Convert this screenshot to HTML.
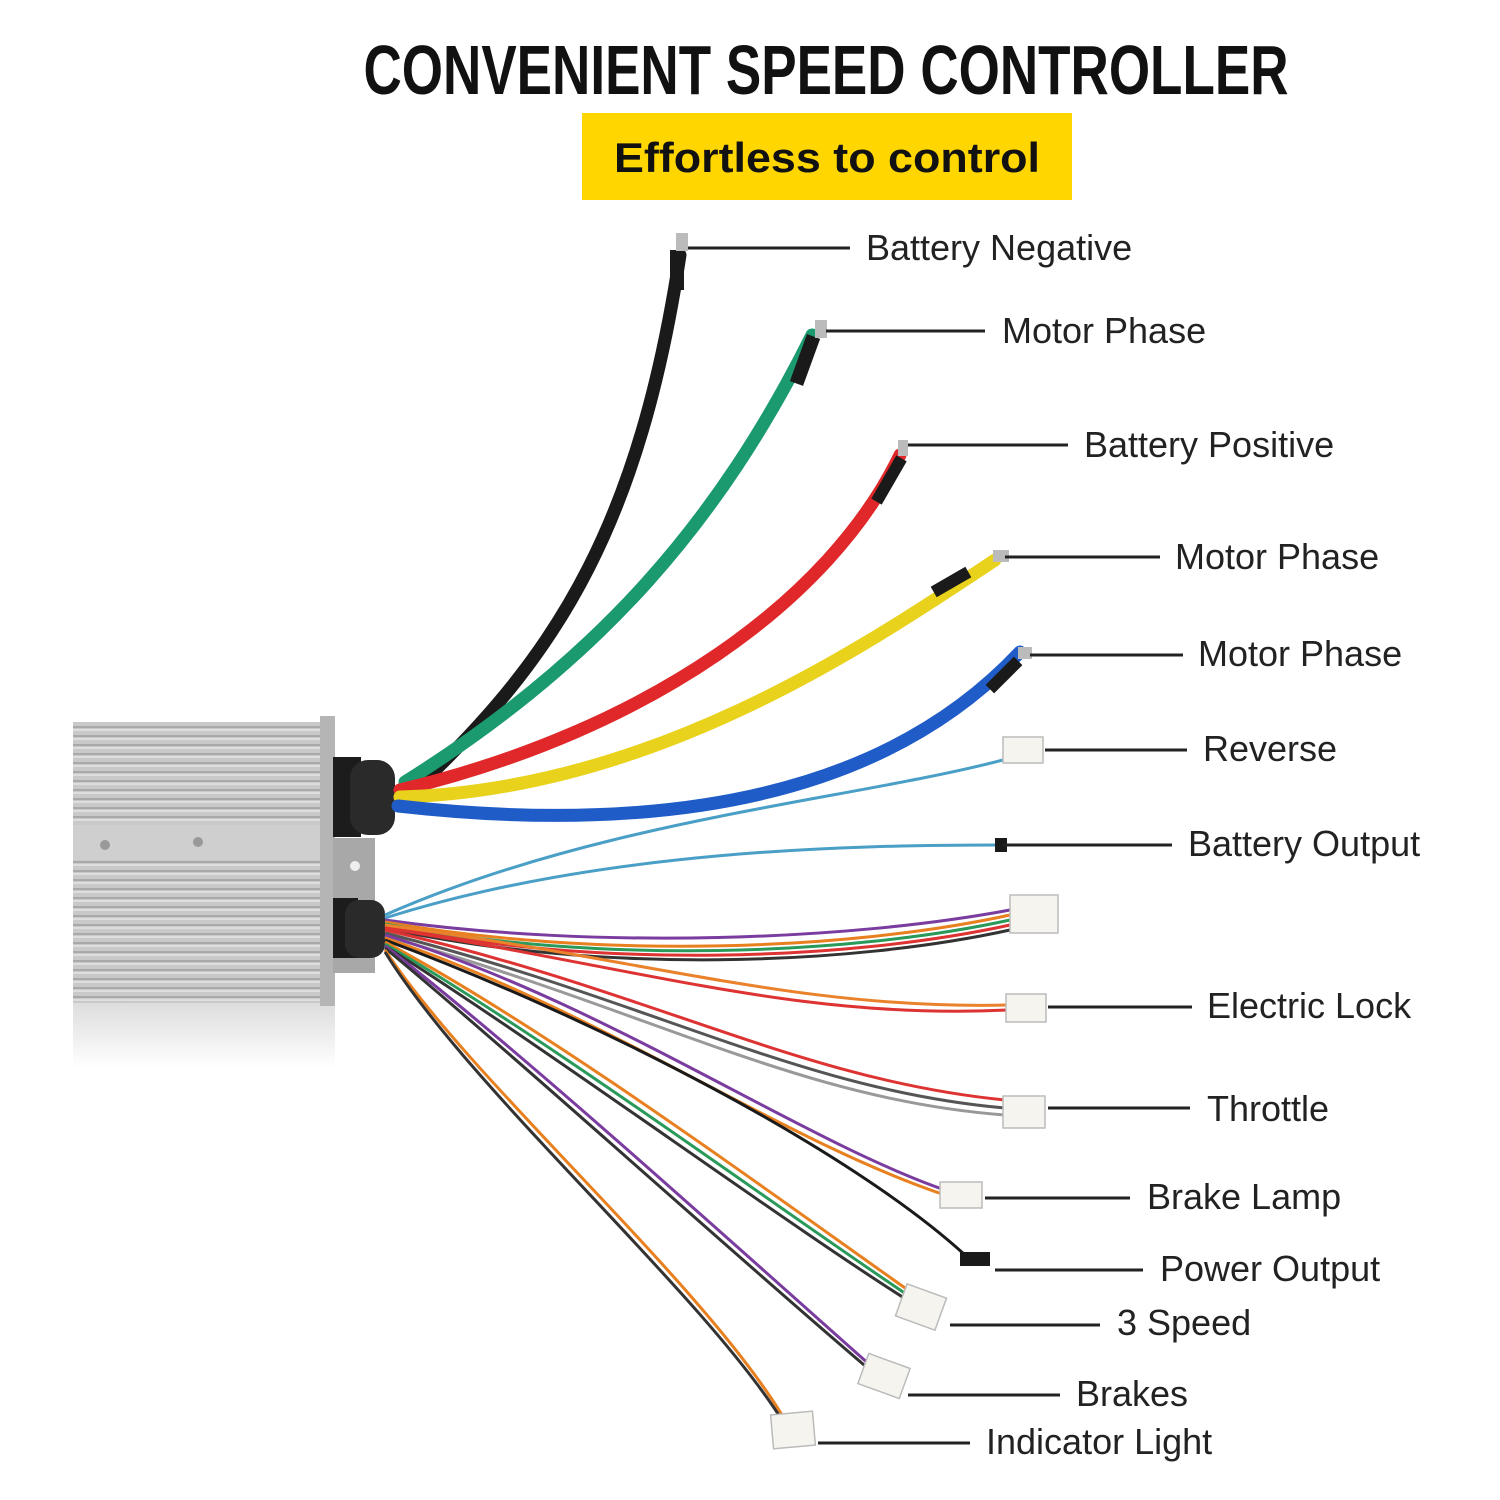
<!DOCTYPE html>
<html><head><meta charset="utf-8"><style>
html,body{margin:0;padding:0;background:#fff}
svg{display:block}
.lb{font-family:"Liberation Sans",sans-serif;font-size:36px;fill:#222}
</style></head><body>
<svg width="1500" height="1500" viewBox="0 0 1500 1500" xmlns="http://www.w3.org/2000/svg">
<defs>
<linearGradient id="shadow" x1="0" y1="0" x2="0" y2="1"><stop offset="0" stop-color="#ddd"/><stop offset="1" stop-color="#fff"/></linearGradient>
<pattern id="ribs" width="10" height="9" patternUnits="userSpaceOnUse"><rect width="10" height="9" fill="#c9c9c9"/><rect y="6" width="10" height="2" fill="#a9a9a9"/><rect y="0" width="10" height="2" fill="#dedede"/></pattern>
</defs>
<text x="826" y="94" text-anchor="middle" textLength="925" lengthAdjust="spacingAndGlyphs" font-family="Liberation Sans,sans-serif" font-weight="bold" font-size="70" fill="#111">CONVENIENT SPEED CONTROLLER</text>
<rect x="582" y="113" width="490" height="87" fill="#FFD600"/>
<text x="827" y="172" text-anchor="middle" textLength="426" lengthAdjust="spacingAndGlyphs" font-family="Liberation Sans,sans-serif" font-weight="bold" font-size="42" fill="#111">Effortless to control</text>

<!-- controller -->
<rect x="73" y="1003" width="262" height="65" fill="url(#shadow)"/>
<rect x="73" y="722" width="250" height="281" fill="url(#ribs)"/>
<rect x="73" y="825" width="250" height="35" fill="#cfcfcf"/>
<circle cx="105" cy="845" r="5" fill="#999"/><circle cx="198" cy="842" r="5" fill="#999"/>
<rect x="320" y="716" width="15" height="290" fill="#b5b5b5"/>
<rect x="333" y="838" width="42" height="135" fill="#a8a8a8"/>
<circle cx="355" cy="866" r="5" fill="#eee"/>
<rect x="333" y="757" width="28" height="80" fill="#1c1c1c"/>
<rect x="350" y="760" width="45" height="75" rx="18" fill="#2a2a2a"/>
<rect x="333" y="898" width="25" height="60" fill="#1c1c1c"/>
<rect x="345" y="900" width="40" height="58" rx="14" fill="#2a2a2a"/>

<!-- thin wires -->
<g fill="none" stroke-width="3">
<path d="M385,915 C600,820 850,800 1003,760" stroke="#4a9fc7"/>
<path d="M385,918 C600,850 850,845 1000,845" stroke="#4a9fc7"/>
<path d="M385,920 C600,950 850,940 1010,910" stroke="#7a3c9e"/>
<path d="M385,922 C600,960 850,950 1010,915" stroke="#e88020"/>
<path d="M385,924 C600,965 850,955 1010,920" stroke="#2a9a5a"/>
<path d="M385,926 C600,970 850,960 1010,925" stroke="#d33"/>
<path d="M385,928 C600,975 850,965 1010,930" stroke="#333"/>
<path d="M385,925 C650,960 800,1010 1008,1005" stroke="#e9822a"/>
<path d="M385,928 C650,970 800,1020 1008,1010" stroke="#d33"/>
<path d="M385,930 C650,990 800,1080 1005,1100" stroke="#d33"/>
<path d="M385,933 C650,1000 800,1090 1005,1108" stroke="#555"/>
<path d="M385,936 C650,1010 800,1100 1005,1115" stroke="#999"/>
<path d="M385,935 C600,1000 800,1140 945,1190" stroke="#7a3c9e"/>
<path d="M385,938 C600,1010 780,1140 945,1195" stroke="#e88020"/>
<path d="M385,940 C600,1020 850,1150 965,1255" stroke="#1a1a1a"/>
<path d="M385,942 C550,1030 780,1200 915,1295" stroke="#e88020"/>
<path d="M385,944 C550,1040 780,1210 915,1300" stroke="#2a9a5a"/>
<path d="M385,946 C550,1050 780,1220 915,1305" stroke="#333"/>
<path d="M385,946 C520,1050 740,1250 870,1365" stroke="#7a3c9e"/>
<path d="M385,948 C520,1060 740,1260 870,1370" stroke="#333"/>
<path d="M385,950 C470,1080 700,1280 782,1415" stroke="#e88020"/>
<path d="M385,952 C470,1090 700,1290 782,1420" stroke="#333"/>
</g>
<!-- thick cables -->
<g fill="none" stroke-width="13" stroke-linecap="round">
<path d="M430,775 C560,650 640,520 680,255" stroke="#1a1a1a"/>
<path d="M405,782 C600,660 720,520 812,335" stroke="#1a9a6e"/>
<path d="M400,790 C650,730 830,600 900,455" stroke="#e0282a"/>
<path d="M400,797 C650,790 860,650 995,560" stroke="#e8d21c"/>
<path d="M398,806 C700,840 900,780 1020,652" stroke="#1f5cc8"/>
</g>
<!-- terminals -->
<g fill="#1a1a1a">
<rect x="670" y="250" width="14" height="40"/><rect x="798" y="335" width="14" height="50" transform="rotate(20 805 360)"/>
<rect x="883" y="455" width="12" height="50" transform="rotate(30 889 480)"/>
<rect x="945" y="562" width="12" height="40" transform="rotate(60 951 582)"/>
<rect x="998" y="655" width="12" height="40" transform="rotate(45 1004 675)"/>
<rect x="995" y="838" width="12" height="14"/><rect x="960" y="1252" width="30" height="14"/>
</g>
<g fill="#bbb"><rect x="676" y="233" width="12" height="18"/><rect x="815" y="320" width="12" height="18"/><rect x="898" y="440" width="10" height="16"/><rect x="993" y="550" width="16" height="12"/><rect x="1018" y="647" width="14" height="12"/></g>
<g fill="#f6f4ee" stroke="#bbb" stroke-width="1.5">
<rect x="1003" y="737" width="40" height="26"/><rect x="1010" y="895" width="48" height="38"/>
<rect x="1006" y="994" width="40" height="28"/><rect x="1003" y="1096" width="42" height="32"/>
<rect x="940" y="1182" width="42" height="26"/><rect x="900" y="1290" width="42" height="34" transform="rotate(20 921 1307)"/>
<rect x="862" y="1360" width="44" height="32" transform="rotate(20 884 1376)"/><rect x="772" y="1413" width="42" height="34" transform="rotate(-5 793 1430)"/>
</g>

<!-- leader lines -->
<g stroke="#222" stroke-width="3">
<line x1="688" y1="248" x2="850" y2="248"/><line x1="826" y1="331" x2="985" y2="331"/>
<line x1="908" y1="445" x2="1068" y2="445"/><line x1="1005" y1="557" x2="1160" y2="557"/>
<line x1="1030" y1="655" x2="1183" y2="655"/><line x1="1045" y1="750" x2="1187" y2="750"/>
<line x1="1003" y1="845" x2="1172" y2="845"/><line x1="1048" y1="1007" x2="1192" y2="1007"/>
<line x1="1048" y1="1108" x2="1190" y2="1108"/><line x1="985" y1="1198" x2="1130" y2="1198"/>
<line x1="995" y1="1270" x2="1143" y2="1270"/><line x1="950" y1="1325" x2="1100" y2="1325"/>
<line x1="908" y1="1395" x2="1060" y2="1395"/><line x1="818" y1="1443" x2="970" y2="1443"/>
</g>
<text class="lb" x="866" y="260">Battery Negative</text>
<text class="lb" x="1002" y="343">Motor Phase</text>
<text class="lb" x="1084" y="457">Battery Positive</text>
<text class="lb" x="1175" y="569">Motor Phase</text>
<text class="lb" x="1198" y="666">Motor Phase</text>
<text class="lb" x="1203" y="761">Reverse</text>
<text class="lb" x="1188" y="856">Battery Output</text>
<text class="lb" x="1207" y="1018">Electric Lock</text>
<text class="lb" x="1207" y="1121">Throttle</text>
<text class="lb" x="1147" y="1209">Brake Lamp</text>
<text class="lb" x="1160" y="1281">Power Output</text>
<text class="lb" x="1117" y="1335">3 Speed</text>
<text class="lb" x="1076" y="1406">Brakes</text>
<text class="lb" x="986" y="1454">Indicator Light</text>
</svg>
</body></html>
